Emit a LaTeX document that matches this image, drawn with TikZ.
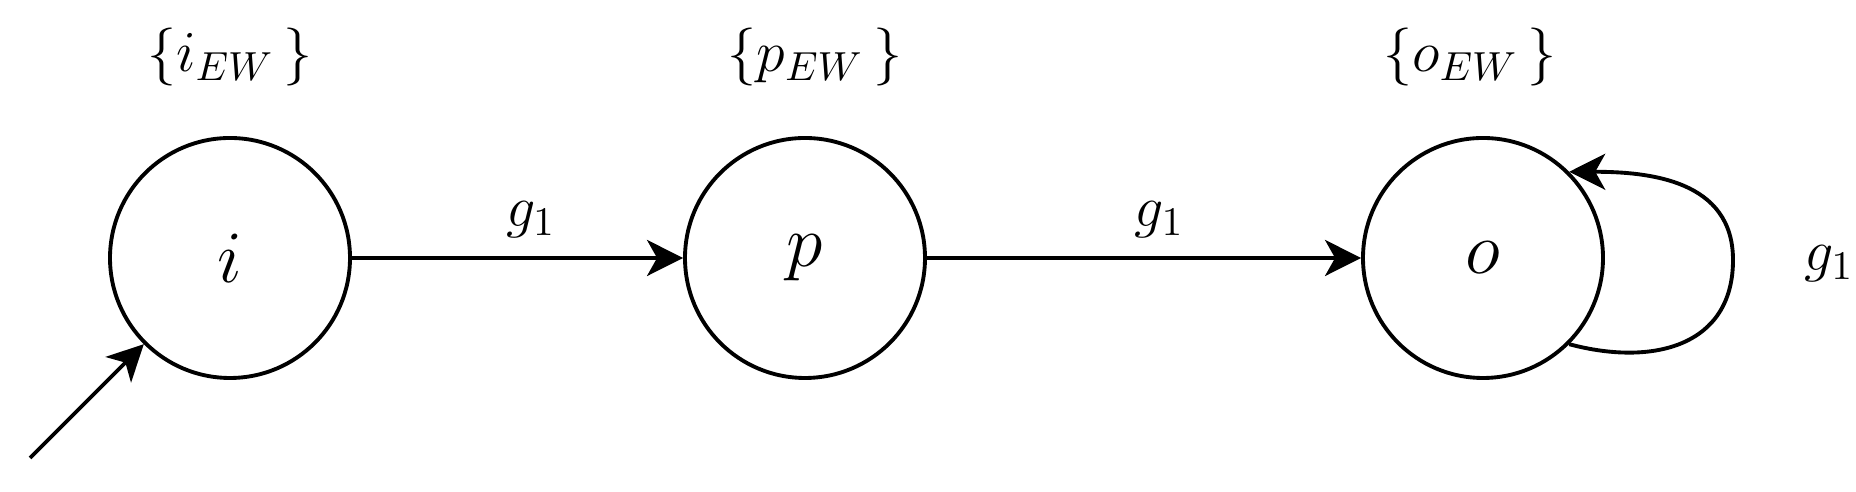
\documentclass[tikz,border=0pt]{standalone}
\usepackage{fix-cm}
\usepackage{amsmath}
\usepackage{tikz}
\usetikzlibrary{positioning, arrows.meta, calc}

\tikzset{
  statenode/.style={draw, circle, line width=1.1pt, minimum size=2.4cm, inner sep=0pt,
                    font=\fontsize{21}{25}\selectfont},
  setlabel/.style={inner sep=0pt, outer sep=0pt, font=\fontsize{16.5}{20}\selectfont},
  translabel/.style={inner sep=0pt, outer sep=0pt, font=\fontsize{16.5}{20}\selectfont},
  trans/.style={line width=1.1pt, -{Stealth[length=0.36cm, width=0.36cm, inset=0.1cm]}}
}

\begin{document}
\begin{tikzpicture}
    \useasboundingbox (0,0) rectangle (18.56,4.92);

    % states
    \node[statenode] (i) at (2.30,2.34) {$i$};
    \node[statenode] (p) at (8.05,2.34) {$p$};
    \node[statenode] (o) at (14.83,2.34) {$o$};

    % sets above the states
    \node[setlabel, above=0.5cm of i] (iset) {$\{i_{EW}\,\}$};
    \node[setlabel, above=0.5cm of p, xshift=0.1cm] (pset) {$\{p_{EW}\,\}$};
    \node[setlabel, above=0.5cm of o, xshift=-0.13cm] (oset) {$\{o_{EW}\,\}$};

    % initial arrow
    \coordinate (start) at (0.30,0.34);
    \draw[trans] (start) -- (i.south west);

    % transitions
    \draw[trans] (i) -- node[translabel, pos=0.54, above=0.2cm] (g1a) {$g_1$} (p);
    \draw[trans] (p) -- node[translabel, pos=0.535, above=0.2cm] (g1b) {$g_1$} (o);

    % self loop on o
    \coordinate (loopR) at (17.33,2.32);
    \draw[trans] (o.-45) to[out=-15, in=-90, looseness=1.2] (loopR) to[out=90, in=0, looseness=1.1] (o.45);
    \node[translabel] (g1c) at (18.29,2.28) {$g_1$};
\end{tikzpicture}
\end{document}
